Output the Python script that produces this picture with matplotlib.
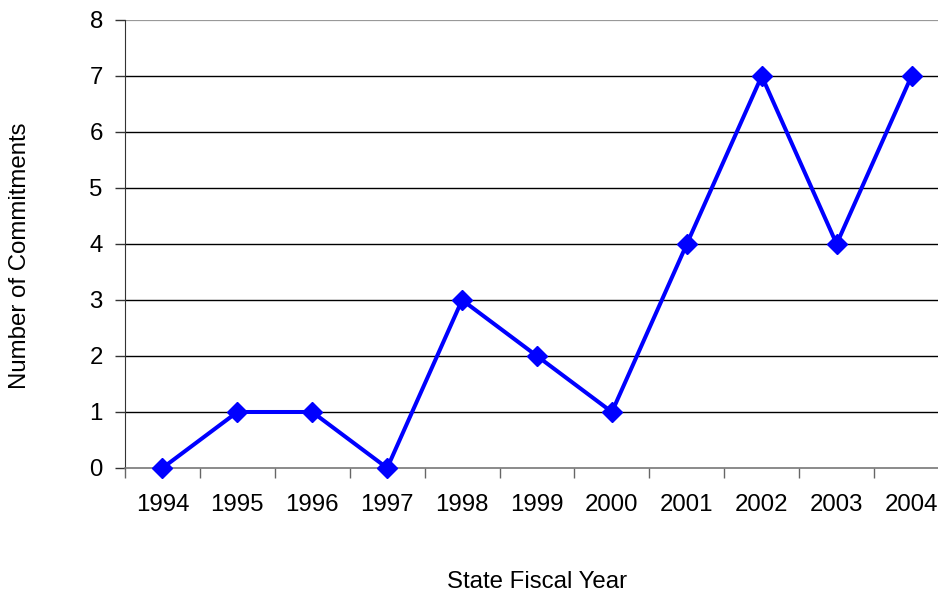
import matplotlib
matplotlib.use("Agg")
import matplotlib.pyplot as plt

years = ["1994", "1995", "1996", "1997", "1998", "1999", "2000", "2001", "2002", "2003", "2004"]
commitments = [0, 1, 1, 0, 3, 2, 1, 4, 7, 4, 7]
yticks = [0, 1, 2, 3, 4, 5, 6, 7, 8]

plt.rcParams['font.family'] = ['Liberation Sans', 'DejaVu Sans']
FS = 17.3

fig = plt.figure(figsize=(9.38, 5.96), dpi=100)
ax = fig.add_axes([125/938, 128/596, 824/938, 448/596])

x = list(range(len(years)))
for t in yticks[1:-1]:
    ax.axhline(t, color='black', lw=1.0, zorder=1)
ax.axhline(8, color='#999999', lw=1.6, zorder=1)
ax.plot(x, commitments, color='#0000FF', lw=2.9, marker='D', markersize=10, zorder=3, clip_on=False)

ax.set_xlim(-0.5, len(years) - 0.5)
ax.set_ylim(0, 8)
ax.set_yticks(yticks)
ax.set_yticklabels([str(v) for v in yticks], fontsize=FS)
ax.set_xticks([i + 0.5 for i in range(-1, len(years))], minor=False)
ax.set_xticklabels([])
ax.set_xticks(x, minor=True)
ax.set_xticklabels(years, minor=True, fontsize=FS)
ax.tick_params(axis='x', which='major', length=7, color='#666666', width=1)
ax.tick_params(axis='x', which='minor', length=0, pad=19)
ax.tick_params(axis='y', length=7, color='#333333', width=1, pad=9)

for s in ['top', 'right']:
    ax.spines[s].set_visible(False)
ax.spines['left'].set_color('#333333')
ax.spines['bottom'].set_color('#777777')
ax.spines['bottom'].set_linewidth(1.2)

fig.text(20/938, 1 - 256/596, "Number of Commitments", fontsize=FS, rotation=90,
         ha='center', va='center')
fig.text(537/938, 1 - 582/596, "State Fiscal Year", fontsize=FS, ha='center', va='center')

fig.savefig("out.png", dpi=100)
